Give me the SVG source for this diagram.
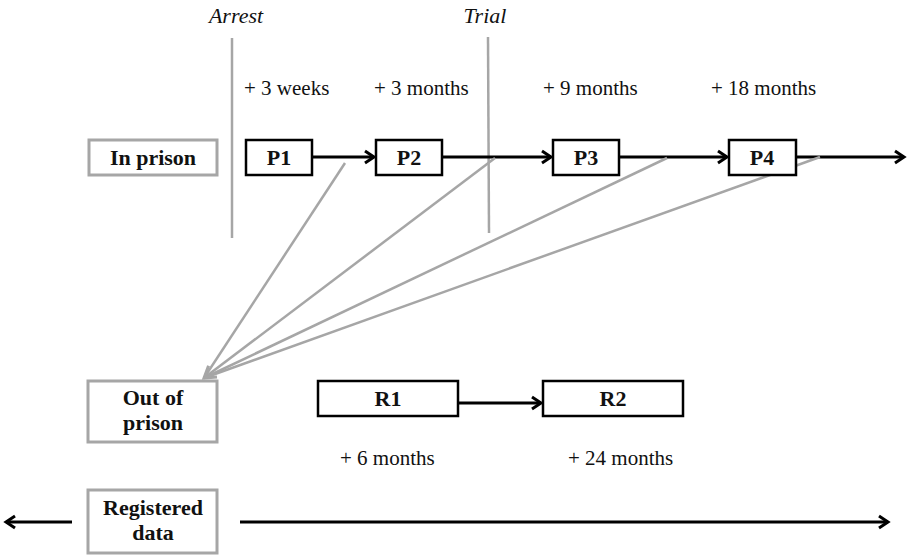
<svg xmlns="http://www.w3.org/2000/svg" width="907" height="556" viewBox="0 0 907 556">
<style>
.gbox{fill:#fff;stroke:#a6a6a6;stroke-width:3}
.bbox{fill:#fff;stroke:#000;stroke-width:2.5}
.lbl{font-family:"Liberation Serif","DejaVu Serif",serif;font-size:22px;font-weight:bold;fill:#111;text-anchor:middle}
.t{font-family:"Liberation Serif","DejaVu Serif",serif;font-size:21px;fill:#111}
.it{font-family:"Liberation Serif","DejaVu Serif",serif;font-size:22px;font-style:italic;fill:#111;text-anchor:middle}
.blk{stroke:#000;stroke-width:2.8;fill:none}
.gry{stroke:#a6a6a6;stroke-width:2.5;fill:none}
</style>
<defs>
<marker id="ab" markerWidth="14" markerHeight="16" refX="11" refY="8" orient="auto" markerUnits="userSpaceOnUse">
<path d="M2,2 L11,8 L2,14" fill="none" stroke="#000" stroke-width="3"/>
</marker>
<marker id="ag" markerWidth="16" markerHeight="18" refX="13" refY="9" orient="auto" markerUnits="userSpaceOnUse">
<path d="M2,2 L13,9 L2,16" fill="none" stroke="#a6a6a6" stroke-width="3"/>
</marker>
</defs>

<g id="timeline-marks">
<line x1="232" y1="38" x2="232" y2="238" class="gry" stroke-width="2"/>
<text x="236" y="23" class="it">Arrest</text>
<line x1="488" y1="37" x2="489" y2="233" class="gry" stroke-width="2"/>
<text x="485" y="23" class="it">Trial</text>
<text x="244" y="95" class="t">+ 3 weeks</text>
<text x="374" y="95" class="t">+ 3 months</text>
<text x="543" y="95" class="t">+ 9 months</text>
<text x="711" y="95" class="t">+ 18 months</text>
<text x="340" y="465" class="t">+ 6 months</text>
<text x="568" y="465" class="t">+ 24 months</text>
</g>

<g id="connectors">
<line x1="312" y1="157" x2="374" y2="157" class="blk" marker-end="url(#ab)"/>
<line x1="442" y1="157" x2="551" y2="157" class="blk" marker-end="url(#ab)"/>
<line x1="619" y1="157" x2="727" y2="157" class="blk" marker-end="url(#ab)"/>
<line x1="796" y1="157" x2="904" y2="157" class="blk" marker-end="url(#ab)"/>
<line x1="458" y1="403" x2="541" y2="403" class="blk" marker-end="url(#ab)"/>
<line x1="240" y1="522" x2="888" y2="522" class="blk" marker-end="url(#ab)"/>
<line x1="72" y1="522" x2="6" y2="522" class="blk" marker-end="url(#ab)"/>
<line x1="345" y1="163" x2="204" y2="378" class="gry"/>
<line x1="495" y1="158" x2="204" y2="378" class="gry" marker-end="url(#ag)"/>
<line x1="667" y1="158" x2="204" y2="378" class="gry"/>
<line x1="820" y1="157" x2="204" y2="378" class="gry"/>
</g>

<g id="in-prison"><rect x="89" y="140" width="128" height="35" class="gbox"/><text x="153" y="165" class="lbl">In prison</text></g>
<g id="p1"><rect x="246" y="140" width="66" height="35" class="bbox"/><text x="279" y="165" class="lbl">P1</text></g>
<g id="p2"><rect x="376" y="140" width="66" height="35" class="bbox"/><text x="409" y="165" class="lbl">P2</text></g>
<g id="p3"><rect x="553" y="140" width="66" height="35" class="bbox"/><text x="586" y="165" class="lbl">P3</text></g>
<g id="p4"><rect x="729" y="140" width="67" height="35" class="bbox"/><text x="762" y="165" class="lbl">P4</text></g>
<g id="out-of-prison"><rect x="88" y="381" width="129" height="61" class="gbox"/><text x="153" y="405" class="lbl">Out of</text><text x="153" y="430" class="lbl">prison</text></g>
<g id="r1"><rect x="318" y="381" width="140" height="35" class="bbox"/><text x="388" y="406" class="lbl">R1</text></g>
<g id="r2"><rect x="543" y="381" width="140" height="35" class="bbox"/><text x="613" y="406" class="lbl">R2</text></g>
<g id="registered-data"><rect x="88" y="490" width="129" height="63" class="gbox"/><text x="153" y="515" class="lbl">Registered</text><text x="153" y="540" class="lbl">data</text></g>
</svg>
